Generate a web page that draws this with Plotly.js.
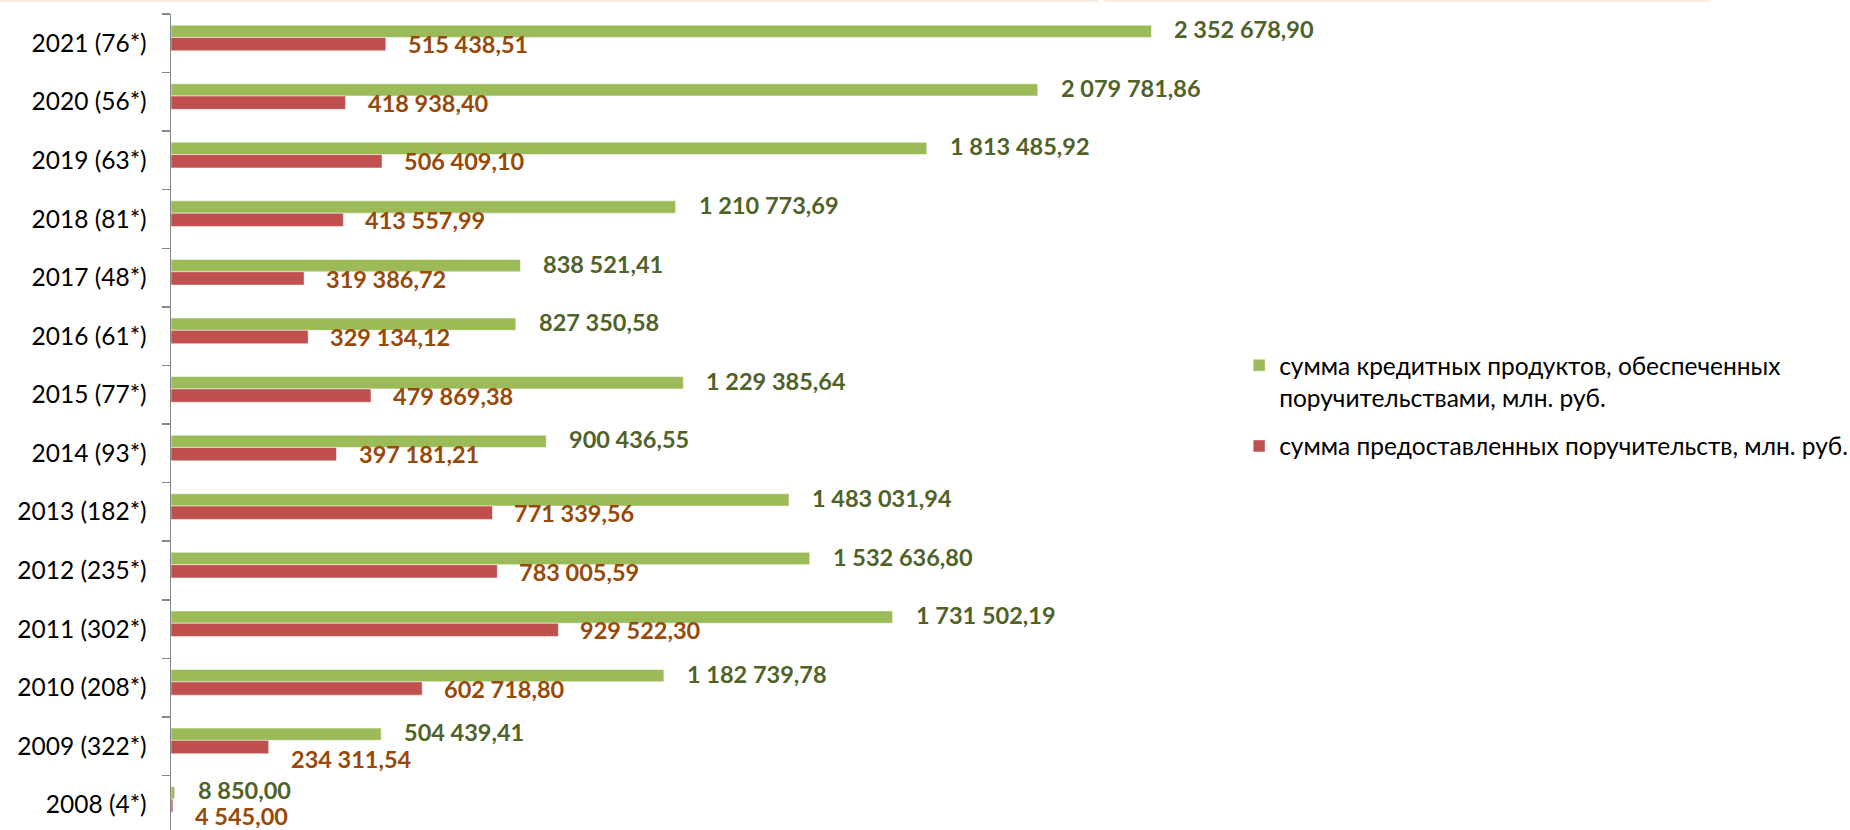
<!DOCTYPE html>
<html>
<head>
<meta charset="utf-8">
<script src="https://cdn.plot.ly/plotly-3.0.1.min.js"></script>
<style>
  html, body { margin: 0; padding: 0; background: #ffffff; }
  #chart { width: 1850px; height: 830px; }
</style>
</head>
<body>
<div id="chart"></div>
<script>
// ---- data (bottom to top) ----
const years = ['2008 (4*)', '2009 (322*)', '2010 (208*)', '2011 (302*)', '2012 (235*)', '2013 (182*)', '2014 (93*)',
               '2015 (77*)', '2016 (61*)', '2017 (48*)', '2018 (81*)', '2019 (63*)', '2020 (56*)', '2021 (76*)'];
const creditProducts = [8850.00, 504439.41, 1182739.78, 1731502.19, 1532636.80, 1483031.94, 900436.55,
                        1229385.64, 827350.58, 838521.41, 1210773.69, 1813485.92, 2079781.86, 2352678.90];
const guarantees = [4545.00, 234311.54, 602718.80, 929522.30, 783005.59, 771339.56, 397181.21,
                    479869.38, 329134.12, 319386.72, 413557.99, 506409.10, 418938.40, 515438.51];
const seriesNames = ['сумма кредитных продуктов, обеспеченных<br>поручительствами, млн. руб.',
                     'сумма предоставленных поручительств, млн. руб.'];

const GREEN = '#9BBB59', RED = '#C0504D';
const GREEN_TXT = '#4F6228', RED_TXT = '#984807';
const FONT = 'Lato, "Open Sans", sans-serif';

function fmt(v) {
  const parts = v.toFixed(2).split('.');
  const intPart = parts[0].replace(/\B(?=(\d{3})+(?!\d))/g, ' ');
  return intPart + ',' + parts[1];
}

const traces = [
  {
    type: 'bar', orientation: 'h', name: seriesNames[0], legendgroup: 'a',
    x: creditProducts, y: years,
    marker: { color: GREEN, line: { color: 'rgba(255,255,255,0.5)', width: 1 } },
    width: 0.21, offset: 0.10,
    hoverinfo: 'x+y'
  },
  {
    type: 'bar', orientation: 'h', name: seriesNames[1], legendgroup: 'b',
    x: guarantees, y: years,
    marker: { color: RED, line: { color: 'rgba(255,255,255,0.5)', width: 1 } },
    width: 0.228, offset: -0.128,
    hoverinfo: 'x+y'
  }
];

const annotations = [];
years.forEach((yr, i) => {
  annotations.push({
    x: creditProducts[i], y: yr, xref: 'x', yref: 'y',
    text: fmt(creditProducts[i]), showarrow: false, borderpad: 0,
    xanchor: 'left', yanchor: 'middle', xshift: 22, yshift: i === 0 ? 15 : 14,
    font: { family: FONT, size: 23.5, color: GREEN_TXT, weight: 'bold' }
  });
  // the two lowest rows have their value labels pushed further down in the original
  const redShift = i === 0 ? -11 : (i === 1 ? -13 : -1);
  annotations.push({
    x: guarantees[i], y: yr, xref: 'x', yref: 'y',
    text: fmt(guarantees[i]), showarrow: false, borderpad: 0,
    xanchor: 'left', yanchor: 'middle', xshift: 21, yshift: redShift,
    font: { family: FONT, size: 23.5, color: RED_TXT, weight: 'bold' }
  });
});

const layout = {
  width: 1850, height: 830,
  paper_bgcolor: '#ffffff', plot_bgcolor: '#ffffff',
  margin: { l: 171, r: 610, t: 14, b: 0, pad: 0 },
  barmode: 'overlay',
  showlegend: true,
  font: { family: FONT, size: 24, color: '#000000' },
  xaxis: {
    range: [0, 2563000], visible: false, fixedrange: true
  },
  yaxis: {
    type: 'category', categoryorder: 'array', categoryarray: years,
    range: [-0.43, 13.5],
    showline: true, linecolor: '#868686', linewidth: 1.5,
    ticks: 'outside', tickson: 'boundaries', ticklen: 8, tickcolor: '#868686', tickwidth: 1.5,
    ticklabelstandoff: 18,
    showgrid: false, zeroline: false,
    tickfont: { family: FONT, size: 24.5, color: '#000000' }
  },
  legend: {
    xref: 'container', yref: 'container',
    x: 0.6698, y: 0.587, xanchor: 'left', yanchor: 'top',
    valign: 'top', traceorder: 'grouped',
    font: { family: FONT, size: 24.5, color: '#000000' },
    bgcolor: 'rgba(0,0,0,0)', itemwidth: 30, tracegroupgap: 14
  },
  annotations: annotations,
  shapes: [
    { type: 'line', xref: 'paper', yref: 'paper', x0: -0.166, x1: 0.868, y0: 1.016, y1: 1.016,
      line: { color: '#FBE9DA', width: 2 } },
    { type: 'line', xref: 'paper', yref: 'paper', x0: 0.874, x1: 1.44, y0: 1.016, y1: 1.016,
      line: { color: '#FBE9DA', width: 2 } }
  ]
};

Plotly.newPlot('chart', traces, layout, { displayModeBar: false, staticPlot: true });
</script>
</body>
</html>
